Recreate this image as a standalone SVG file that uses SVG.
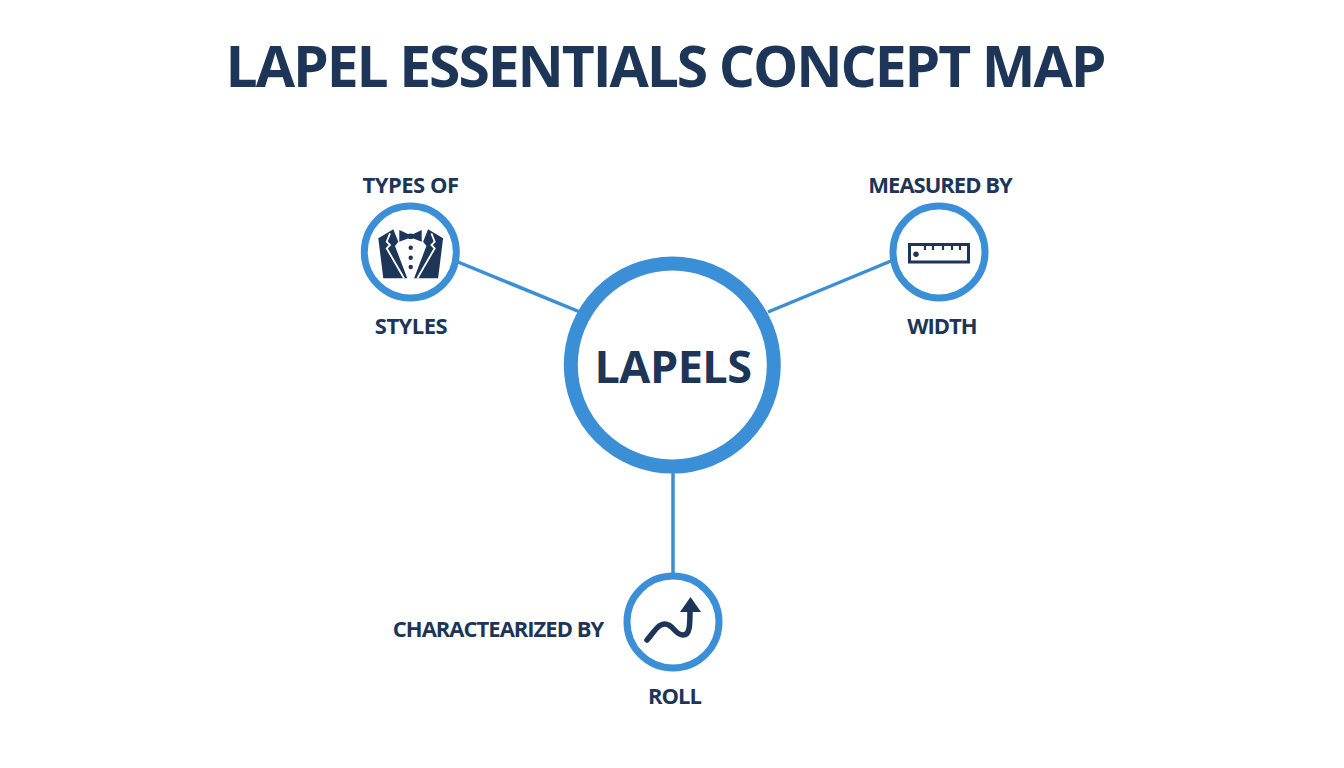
<svg xmlns="http://www.w3.org/2000/svg" width="1344" height="768" viewBox="0 0 1344 768">
<style>
text{font-family:"Open Sans","Noto Sans","Liberation Sans",sans-serif;font-weight:700;fill:#1d3557;text-anchor:middle}
.lbl{font-size:22px;letter-spacing:-1px}
.lbl.wide{letter-spacing:-.5px}
.ring{fill:#fff;stroke:#3a8fd6;stroke-width:7}
.link{stroke:#3a8fd6;stroke-width:3.5;fill:none}
.ink{fill:#1d3557}
.cut{fill:none;stroke:#fff;stroke-width:1.800}
</style>
<rect width="1344" height="768" fill="#fff"/>
<text id="title" x="665" y="86.500" font-size="57" letter-spacing="-2.100">LAPEL ESSENTIALS CONCEPT MAP</text>
<g id="connectors">
<line class="link" x1="458" y1="262" x2="580" y2="312"/>
<line class="link" x1="891" y1="261" x2="768" y2="312"/>
<line class="link" x1="673" y1="470" x2="673" y2="574"/>
</g>
<g id="node-lapels">
<circle cx="672.300" cy="365" r="101.500" fill="#fff" stroke="#3a8fd6" stroke-width="14"/>
<text x="673" y="383.300" font-size="45" letter-spacing="-.5">LAPELS</text>
</g>
<g id="node-styles">
<text class="lbl wide" x="410.500" y="192.700">TYPES OF</text>
<circle class="ring" cx="410.300" cy="252" r="46"/>
<path class="ink" d="M378.300 238.300L393.300 229.300L398.300 241.700L395 246L407.300 278.300H383.300Z"/>
<path class="cut" d="M390 233.300L386.700 241.700L390 245L386.700 248.300L404 278.300"/>
<path class="ink" d="M443.100 238.300L428.100 229.300L423.100 241.700L426.400 246L414.100 278.300H438.100Z"/>
<path class="cut" d="M431.400 233.300L434.700 241.700L431.400 245L434.700 248.300L417.400 278.300"/>
<path class="ink" d="M399.300 230L408 234Q410.700 233 413.400 234L421.700 230V241.700L413.400 238.500Q410.700 239.500 408 238.500L399.300 241.700Z"/>
<circle class="ink" cx="410.700" cy="247.700" r="2.200"/>
<circle class="ink" cx="410.700" cy="257.700" r="2.200"/>
<circle class="ink" cx="410.700" cy="267" r="2.200"/>
<text class="lbl wide" x="411" y="334.300">STYLES</text>
</g>
<g id="node-width">
<text class="lbl" x="940" y="192.700">MEASURED BY</text>
<circle class="ring" cx="939" cy="252" r="46"/>
<rect x="909.500" y="244.500" width="59" height="17.500" fill="none" stroke="#1d3557" stroke-width="3"/>
<path d="M925 245v5M933 245v5M943 245v5M952 245v5M960 245v5" stroke="#1d3557" stroke-width="2.200" fill="none"/>
<circle class="ink" cx="916" cy="254.300" r="2.700"/>
<text class="lbl" x="942" y="334.300">WIDTH</text>
</g>
<g id="node-roll">
<text class="lbl" x="498" y="636.500">CHARACTEARIZED BY</text>
<circle class="ring" cx="673" cy="622" r="46"/>
<path d="M647 640C654 632 658 624 665 624C673 624 675 635 683 635C690 635 690 625 690 610" fill="none" stroke="#1d3557" stroke-width="5.500" stroke-linecap="round"/>
<path class="ink" d="M680 612L690.500 597L701 612Z"/>
<text class="lbl" x="674.500" y="704.300">ROLL</text>
</g>
</svg>
